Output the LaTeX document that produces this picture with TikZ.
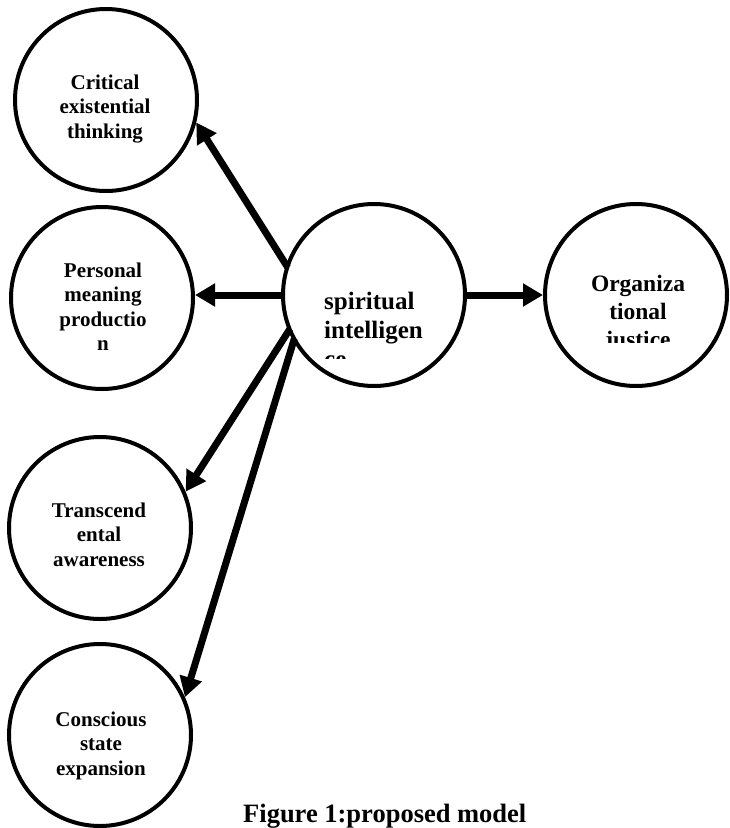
\documentclass[tikz,border=0pt]{standalone}
\usepackage{fontspec}
\setmainfont{Liberation Serif}
\usetikzlibrary{arrows.meta}
\newcommand{\clines}[1]{\begin{tabular}[t]{@{}c@{}}#1\end{tabular}}
\newcommand{\llines}[1]{\begin{tabular}[t]{@{}l@{}}#1\end{tabular}}
\begin{document}
\begin{tikzpicture}[x=1pt,y=-1pt,
  circ/.style={circle,draw,line width=4pt,minimum size=182pt,inner sep=0pt},
  arr/.style={line width=7pt,-{Triangle[length=20pt,width=22pt]},shorten <=-3pt},
  lbl/.style={font=\bfseries\fontsize{21}{24.5}\selectfont,inner sep=0pt,anchor=base}]
\useasboundingbox[fill=white] (0,0) rectangle (730,828);
% circles
\node[circ] (ce) at (106,100) {};
\node[circ] (pm) at (102,298) {};
\node[circ] (tr) at (100,528) {};
\node[circ] (cs) at (100,735) {};
\node[circ] (sp) at (374,295) {};
\node[circ] (oj) at (636,295) {};
% labels
\node[lbl] (ceT) at (105,89) {\clines{Critical\\existential\\thinking}};
\node[lbl] (pmT) at (103,277) {\clines{Personal\\meaning\\productio\\n}};
\node[lbl] (trT) at (99,517) {\clines{Transcend\\ental\\awareness}};
\node[lbl] (csT) at (101,726) {\clines{Conscious\\state\\expansion}};
\begin{scope}
\clip (285,200) rectangle (465,358);
\node[font=\bfseries\fontsize{25}{29}\selectfont,inner sep=0pt,anchor=base west] (spT) at (324,309) {\llines{spiritual\\intelligen\\ce}};
\end{scope}
\begin{scope}
\clip (550,200) rectangle (725,342);
\node[font=\bfseries\fontsize{23.5}{28}\selectfont,inner sep=0pt,anchor=base] (ojT) at (638,291) {\clines{Organiza\\tional\\justice}};
\end{scope}
\node[font=\bfseries\fontsize{26.5}{30}\selectfont,inner sep=0pt,anchor=base west] (cap) at (243,822) {Figure 1:proposed model};
% arrows
\draw[arr] (sp.161) -- (ce.-14);
\draw[arr] (sp.west) -- (pm.east |- sp.west);
\draw[arr] (sp.203) -- (tr.23);
\draw[arr] (sp.210) -- (cs.24);
\draw[arr] (sp.east) -- (oj.west);
\end{tikzpicture}
\end{document}
